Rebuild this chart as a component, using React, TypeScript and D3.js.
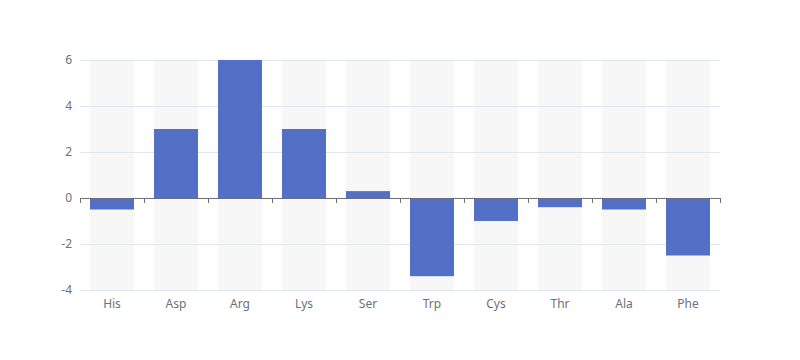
import React from "react";
import * as d3 from "d3";

const categories = ["His", "Asp", "Arg", "Lys", "Ser", "Trp", "Cys", "Thr", "Ala", "Phe"];
const values = [-0.5, 3, 6, 3, 0.3, -3.4, -1, -0.4, -0.5, -2.5];
const yTicks = [-4, -2, 0, 2, 4, 6];

export default function App() {
  const W = 800, H = 360;
  const left = 80, right = 720, top = 60, bottom = 290;
  const x = d3.scaleBand<string>().domain(categories).range([left, right]).padding(0);
  const y = d3.scaleLinear().domain([-4, 6]).range([bottom, top]);
  const bw = x.bandwidth();
  const barW = 44;
  const off = (bw - barW) / 2;
  const font = "'Microsoft YaHei', 'Noto Sans', sans-serif";
  return (
    <svg width={W} height={H} style={{ position: "absolute", left: 0, top: 0 }}>
      <rect width={W} height={H} fill="#fff" />
      {categories.map((c) => (
        <rect key={"s" + c} x={x(c)! + off} y={top} width={barW} height={bottom - top} fill="rgba(180,180,180,0.1)" />
      ))}
      {yTicks.map((t) => (
        <line key={"g" + t} x1={left} x2={right} y1={Math.round(y(t)) + 0.5} y2={Math.round(y(t)) + 0.5} stroke="#E0E6F1" />
      ))}
      {categories.map((c, i) => {
        const v = values[i];
        const y0 = y(0), y1 = y(v);
        return (
          <rect key={"b" + c} x={x(c)! + off} y={Math.min(y0, y1)} width={barW} height={Math.abs(y1 - y0)} fill="#5470c6" />
        );
      })}
      <line x1={left} x2={right} y1={Math.round(y(0)) + 0.5} y2={Math.round(y(0)) + 0.5} stroke="#6E7079" />
      {categories.concat(["__end"]).map((c, i) => {
        const xx = Math.round(left + i * bw) + 0.5;
        return <line key={"t" + i} x1={xx} x2={xx} y1={y(0)} y2={y(0) + 5} stroke="#6E7079" />;
      })}
      {yTicks.map((t) => (
        <text key={"yl" + t} x={left - 8} y={y(t)} dy="0.35em" textAnchor="end" fontSize={12} fill="#6E7079" fontFamily={font}>
          {t}
        </text>
      ))}
      {categories.map((c) => (
        <text key={"xl" + c} x={x(c)! + bw / 2} y={bottom + 8} dy="0.8em" textAnchor="middle" fontSize={12} fill="#6E7079" fontFamily={font}>
          {c}
        </text>
      ))}
    </svg>
  );
}
